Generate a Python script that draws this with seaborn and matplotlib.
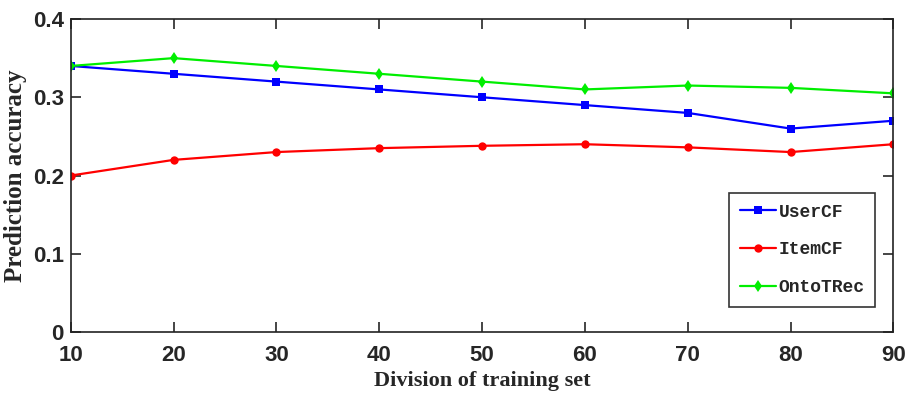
import numpy as np
import pandas as pd
import seaborn as sns
import matplotlib.pyplot as plt


# values
division = [10, 20, 30, 40, 50, 60, 70, 80, 90]
usercf = [0.34, 0.33, 0.32, 0.31, 0.30, 0.29, 0.28, 0.26, 0.27]
itemcf = [0.20, 0.22, 0.23, 0.235, 0.238, 0.24, 0.236, 0.23, 0.24]
ontotrec = [0.34, 0.35, 0.34, 0.33, 0.32, 0.31, 0.315, 0.312, 0.305]
methods = ["UserCF", "ItemCF", "OntoTRec"]

df = pd.DataFrame({"division": division * 3,
                   "acc": usercf + itemcf + ontotrec,
                   "method": [m for m in methods for _ in division]})

sns.set_style("ticks")
plt.rcParams['font.family'] = ['Liberation Sans Narrow', 'Liberation Sans', 'DejaVu Sans']

fig = plt.figure(figsize=(9.07, 4.04), dpi=100)
ax = fig.add_axes([0.078, 0.178, 0.907, 0.775])

palette = {"UserCF": "#0000ff", "ItemCF": "#ff0000", "OntoTRec": "#00ee00"}
markers = {"UserCF": "s", "ItemCF": "o", "OntoTRec": "d"}
sns.lineplot(data=df, x="division", y="acc", hue="method", style="method",
             palette=palette, markers=markers, dashes=False, markersize=6,
             linewidth=1.6, markeredgewidth=0, ax=ax)

ax.set_xlim(10, 90)
ax.set_ylim(0, 0.4)
ax.set_xticks(division)
ax.set_yticks([0, 0.1, 0.2, 0.3, 0.4])
ax.set_yticklabels(["0", "0.1", "0.2", "0.3", "0.4"])
ax.tick_params(direction="in", top=True, right=True, length=7, width=1.2,
               labelsize=16)
ax.tick_params(axis="x", pad=9)
ax.tick_params(axis="y", pad=5)
for lab in ax.get_xticklabels() + ax.get_yticklabels():
    lab.set_fontweight("bold")
for s in ax.spines.values():
    s.set_linewidth(1.2)
    s.set_color("#222222")

ax.set_xlabel("Division of training set", fontsize=16, fontweight="bold",
              family=["Liberation Serif", "DejaVu Serif"], labelpad=4)
ax.set_ylabel("Prediction accuracy", fontsize=18, fontweight="bold",
              family=["Liberation Serif", "DejaVu Serif"], labelpad=4)

leg = ax.legend(loc="lower right", bbox_to_anchor=(0.978, 0.08), borderaxespad=0,
                fancybox=False, edgecolor="#333333", framealpha=1,
                handlelength=2.0, borderpad=0.6, labelspacing=1.15,
                handletextpad=0.15,
                prop={"family": ["Liberation Mono", "DejaVu Sans Mono"],
                      "weight": "bold", "size": 13})
leg.get_frame().set_linewidth(1.2)

fig.savefig("out.png", dpi=100)
